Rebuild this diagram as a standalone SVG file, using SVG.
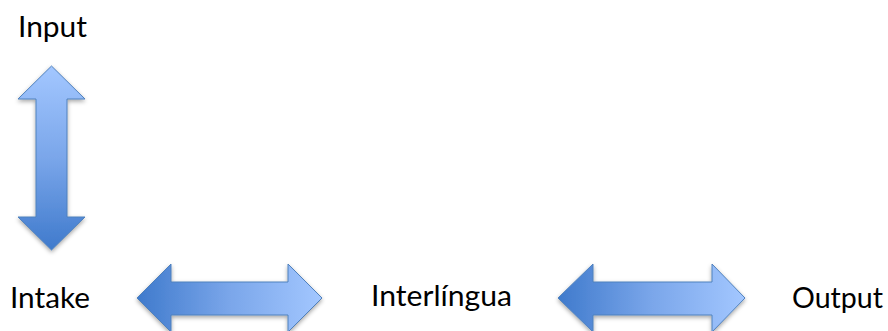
<svg xmlns="http://www.w3.org/2000/svg" width="888" height="331" viewBox="0 0 888 331">
<style>
.lbl{font-family:Lato,"Liberation Sans",sans-serif;font-size:28px;fill:#000}
.arr{stroke:#4f81bd;stroke-width:1;filter:url(#sh)}
</style>
<defs>
<linearGradient id="gv" x1="0" y1="0" x2="0" y2="1">
<stop offset="0" stop-color="#a3c7ff"/><stop offset="0.5" stop-color="#7aa6ea"/><stop offset="1" stop-color="#3f7acc"/>
</linearGradient>
<linearGradient id="gh" x1="0" y1="0" x2="1" y2="0">
<stop offset="0" stop-color="#3f7acc"/><stop offset="0.5" stop-color="#7aa6ea"/><stop offset="1" stop-color="#a3c7ff"/>
</linearGradient>
<filter id="sh" x="-20%" y="-20%" width="140%" height="140%">
<feDropShadow dx="0" dy="2" stdDeviation="2" flood-color="#000" flood-opacity="0.35"/>
</filter>
</defs>
<g id="input"><text class="lbl" x="18" y="37" textLength="69" lengthAdjust="spacingAndGlyphs">Input</text></g>
<g id="intake"><text class="lbl" x="10" y="308" textLength="80" lengthAdjust="spacingAndGlyphs">Intake</text></g>
<g id="interlingua"><text class="lbl" x="371" y="306" textLength="141" lengthAdjust="spacingAndGlyphs">Interlíngua</text></g>
<g id="output"><text class="lbl" x="792" y="308" textLength="91" lengthAdjust="spacingAndGlyphs">Output</text></g>
<g id="connectors">
<path class="arr" fill="url(#gv)" d="M51.5,66 L85,99 L67,99 L67,217 L85,217 L51.5,250 L18,217 L36,217 L36,99 L18,99 Z"/>
<path class="arr" fill="url(#gh)" d="M137,298 L171,264 L171,282 L288,282 L288,264 L322,298 L288,332 L288,315 L171,315 L171,332 Z"/>
<path class="arr" fill="url(#gh)" d="M558,298 L593,264 L593,282 L712,282 L712,264 L745,298 L712,332 L712,315 L593,315 L593,332 Z"/>
</g>
</svg>
